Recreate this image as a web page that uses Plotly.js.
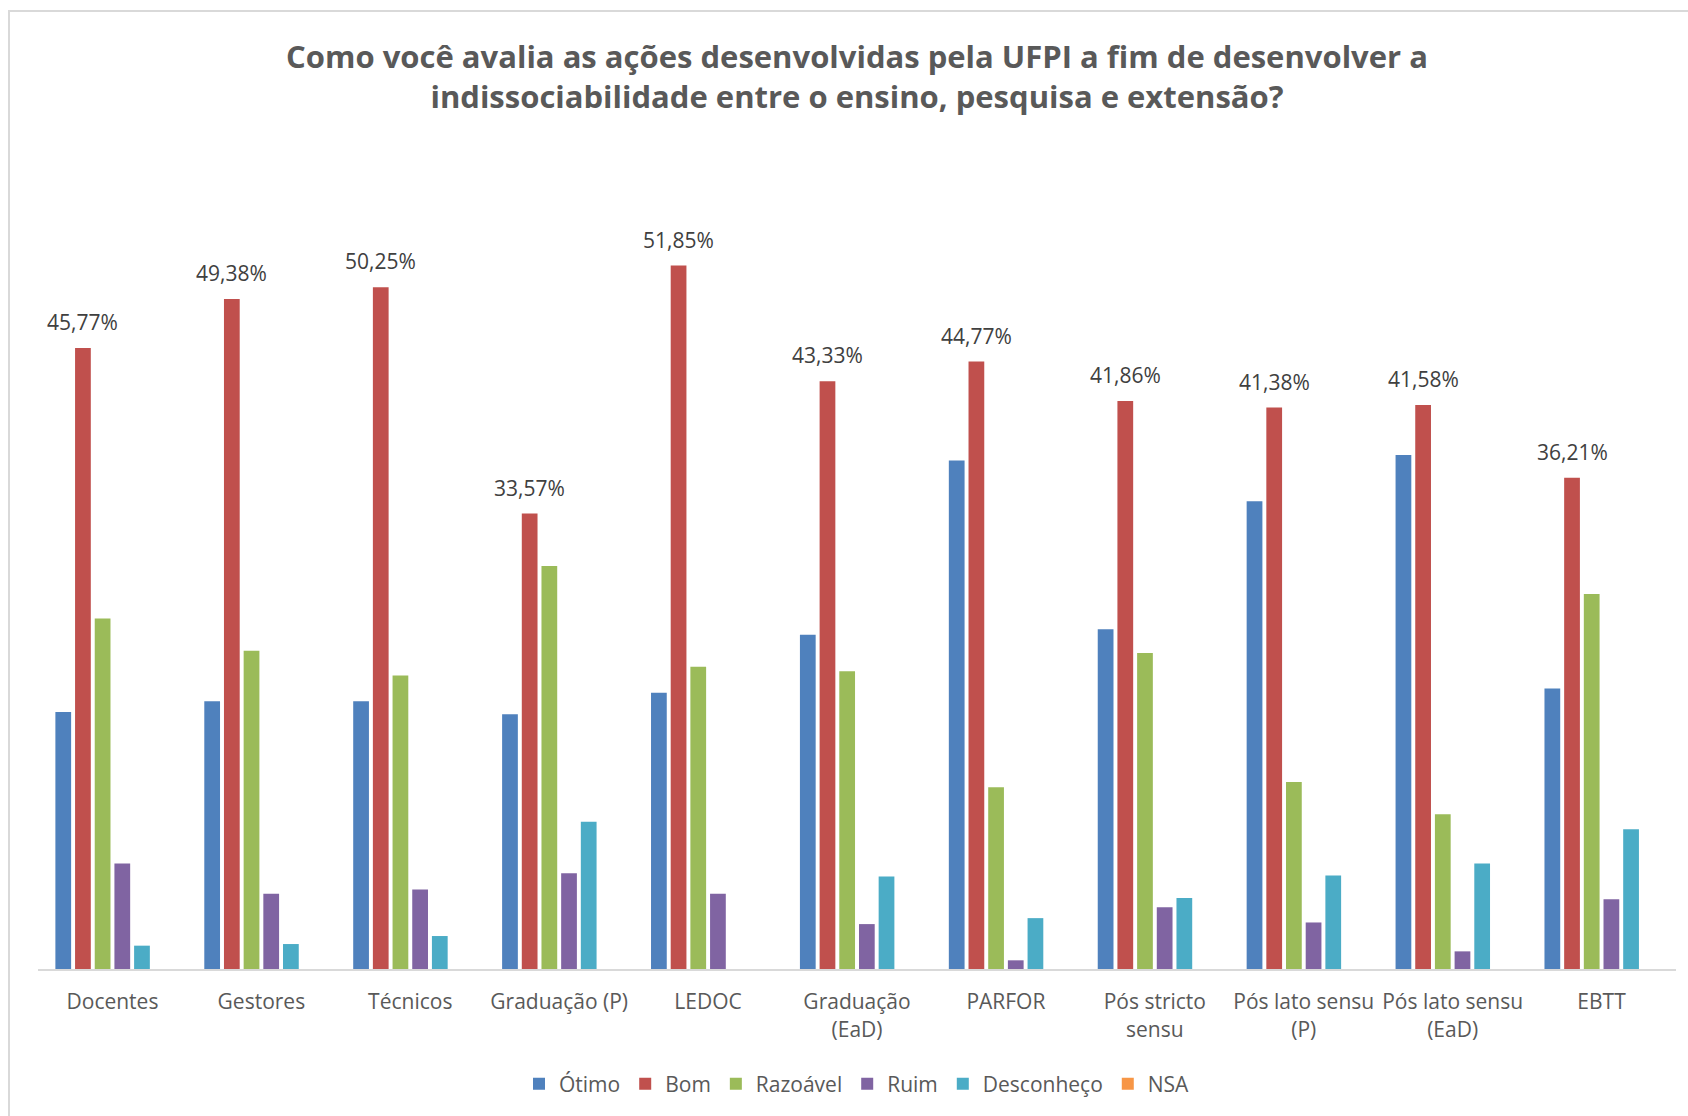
<!DOCTYPE html>
<html>
<head>
<meta charset="utf-8">
<script src="https://cdn.plot.ly/plotly-3.0.1.min.js"></script>
<style>
  html, body { margin: 0; padding: 0; background: #ffffff; overflow: hidden; }
  #wrap { position: relative; width: 1688px; height: 1116px; }
  #chart { position: absolute; left: 0; top: 0; width: 1688px; height: 1116px; }
  #frame { position: absolute; left: 8px; top: 10px; width: 1690px; height: 1120px;
           border: 2px solid #d9d9d9; pointer-events: none; box-sizing: border-box; }
</style>
</head>
<body>
<div id="wrap">
  <div id="chart"></div>
  <div id="frame"></div>
</div>
<script>
const categories = ['Docentes', 'Gestores', 'Técnicos', 'Graduação (P)', 'LEDOC',
  'Graduação<br>(EaD)', 'PARFOR', 'Pós stricto<br>sensu', 'Pós lato sensu<br>(P)',
  'Pós lato sensu<br>(EaD)', 'EBTT'];

const otimo      = [18.94, 19.73, 19.73, 18.78, 20.36, 24.64, 37.48, 25.04, 34.47, 37.88, 20.68];
const bom        = [45.77, 49.38, 50.25, 33.57, 51.85, 43.33, 44.77, 41.86, 41.38, 41.58, 36.21];
const razoavel   = [25.83, 23.45, 21.63, 29.71, 22.27, 21.95, 13.39, 23.30, 13.79, 11.41, 27.65];
const ruim       = [7.77, 5.55, 5.86, 7.05, 5.55, 3.31, 0.64, 4.56, 3.43, 1.30, 5.15];
const desconheco = [1.72, 1.84, 2.43, 10.86, 0, 6.81, 3.75, 5.23, 6.89, 7.77, 10.30];
const nsa        = [0, 0, 0, 0, 0, 0, 0, 0, 0, 0, 0];

const seriesNames = ['Ótimo', 'Bom', 'Razoável', 'Ruim', 'Desconheço', 'NSA'];
const seriesData = [otimo, bom, razoavel, ruim, desconheco, nsa];
const seriesColors = ['#4F81BD', '#C0504D', '#9BBB59', '#8064A2', '#4BACC6', '#F79646'];

const FONT = '"Open Sans", "DejaVu Sans", sans-serif';
const bargap = 0.207;

const traces = seriesNames.map((name, k) => ({
  type: 'bar',
  name: name,
  x: categories,
  y: seriesData[k],
  marker: { color: seriesColors[k] },
  hoverinfo: 'x+y+name'
}));

// data labels for the "Bom" series, placed over its bar within each group
const nSeries = seriesNames.length;
const bomIndex = 1;
const bomOffset = (bomIndex - (nSeries - 1) / 2) * (1 - bargap) / nSeries;
const annotations = bom.map((v, i) => ({
  x: i + bomOffset,
  y: v,
  xref: 'x',
  yref: 'y',
  text: v.toFixed(2).replace('.', ',') + '%',
  showarrow: false,
  yanchor: 'bottom',
  xanchor: 'center',
  yshift: 10,
  font: { family: FONT, size: 21, color: '#404040' }
}));

const layout = {
  width: 1688,
  height: 1116,
  paper_bgcolor: 'rgba(0,0,0,0)',
  plot_bgcolor: 'rgba(0,0,0,0)',
  margin: { l: 38, r: 12, t: 155, b: 146, pad: 0 },
  barmode: 'group',
  bargap: bargap,
  bargroupgap: 0.2,
  title: {
    text: 'Como você avalia as ações desenvolvidas pela UFPI a fim de desenvolver a<br>indissociabilidade entre o ensino, pesquisa e extensão?',
    font: { family: FONT, size: 31, color: '#595959', weight: 'bold' },
    x: 0.5,
    xref: 'paper',
    xanchor: 'center',
    y: 0.939,
    yref: 'container',
    yanchor: 'middle'
  },
  xaxis: {
    type: 'category',
    showline: true,
    linecolor: '#d9d9d9',
    linewidth: 2,
    ticks: '',
    showgrid: false,
    zeroline: false,
    tickfont: { family: FONT, size: 21, color: '#595959' },
    ticklabelstandoff: 13,
    fixedrange: true
  },
  yaxis: {
    range: [0, 60],
    showgrid: false,
    zeroline: false,
    showticklabels: false,
    showline: false,
    ticks: '',
    fixedrange: true
  },
  showlegend: true,
  legend: {
    orientation: 'h',
    x: 0.5,
    xanchor: 'center',
    y: -0.14,
    yanchor: 'middle',
    font: { family: FONT, size: 21, color: '#595959' },
    traceorder: 'normal',
    itemwidth: 30,
    bgcolor: 'rgba(0,0,0,0)'
  },
  annotations: annotations
};

Plotly.newPlot('chart', traces, layout, { displayModeBar: false, staticPlot: true });
</script>
</body>
</html>
